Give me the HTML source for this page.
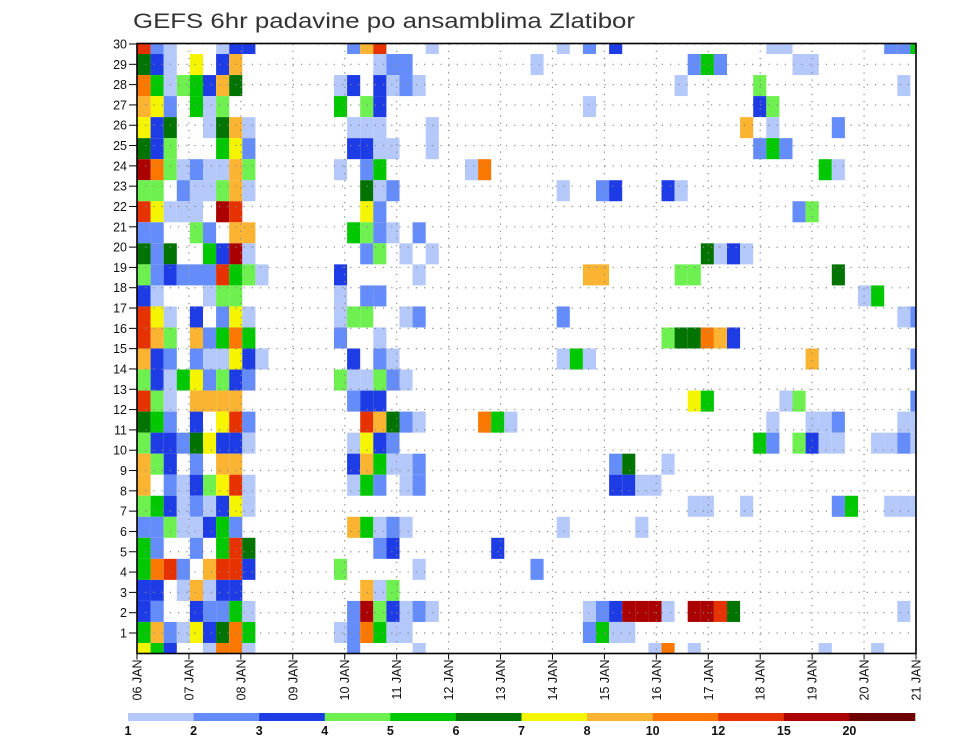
<!DOCTYPE html>
<html><head><meta charset="utf-8"><style>
html,body{margin:0;padding:0;background:#fff;}
svg{display:block;font-family:"Liberation Sans",sans-serif;}
</style></head><body>
<svg id="chart" width="960" height="742" viewBox="0 0 960 742" xmlns="http://www.w3.org/2000/svg">
<text x="133" y="28" font-size="21" fill="#333" textLength="502" lengthAdjust="spacingAndGlyphs">GEFS 6hr padavine po ansamblima Zlatibor</text>
<g id="cells"></g>
<g id="grid"></g>
<rect x="137" y="43.5" width="779" height="610" fill="none" stroke="#000" stroke-width="1.6"/>
<g id="yaxis"></g>
<g id="xaxis"></g>
<g id="cbar"></g>
</svg>
<script>
// categories
const dayLabels = ["06 JAN","07 JAN","08 JAN","09 JAN","10 JAN","11 JAN","12 JAN","13 JAN","14 JAN","15 JAN","16 JAN","17 JAN","18 JAN","19 JAN","20 JAN","21 JAN"];
const memberLabels = [1,2,3,4,5,6,7,8,9,10,11,12,13,14,15,16,17,18,19,20,21,22,23,24,25,26,27,28,29,30];
// colour scale thresholds (mm) and legend labels
const levelThresholds = [1,2,3,4,5,6,7,8,10,12,15,20];
const levelLabels = ["1","2","3","4","5","6","7","8","10","12","15","20"];
const levelColors = ["#b4c8fa","#648cfa","#1e3ce6","#6ef050","#00c800","#007300","#f5f500","#fab432","#fa7800","#e63200","#aa0000","#6e0000"];
// precipitation class per cell (letter a..l = class index), rows top->bottom, "col+class"
const codeValues = {a:1.5,b:2.5,c:3.5,d:4.5,e:5.5,f:6.5,g:7.5,h:9,i:11,j:13.5,k:17.5,l:17.5,m:25};
const precipRows = [
"0j 1b 2a 6a 7c 8c 16b 17h 18j 22a 32a 34b 36c 48a 49a 57b 58b 59e",
"0f 1c 2a 4g 6c 7h 18a 19b 20b 30a 42b 43e 44b 50a 51a",
"0i 1e 2a 3d 4e 5c 6h 7f 15a 16c 18c 19a 20b 21a 41a 47d 58a",
"0h 1g 2b 4e 5a 6d 15e 17d 18c 34a 47c 48d",
"0g 1c 2f 5a 6f 7h 8a 16a 17a 18a 22a 46h 48a 53b",
"0f 1c 2d 6e 7g 8b 16c 17c 18a 19a 22a 47b 48e 49b",
"0l 1i 2d 3a 4b 5a 6a 7h 8d 15a 17b 18e 25a 26i 52e 53a",
"0d 1d 3b 4a 5a 6d 7h 8a 17f 18a 19b 32a 35b 36c 40c 41a",
"0j 1g 2a 3a 4a 6l 7j 17g 18b 50b 51d",
"0b 1b 4d 5b 7h 8h 16e 17d 18b 19a 21b",
"0f 1b 2f 5e 6c 7l 8a 17b 18d 20a 22a 43f 44a 45c 46a",
"0d 1b 2c 3b 4b 5b 6j 7e 8d 9a 15c 21a 34h 35h 41d 42d 53f",
"0c 1a 5a 6d 7d 15a 17b 18b 55a 56e",
"0j 1g 2a 4c 6b 7g 8a 15a 16d 17d 20a 21b 32b 58a 59b",
"0j 1h 2d 4h 5b 6e 7i 8e 15b 18a 40d 41f 42f 43i 44h 45c",
"0h 1c 2b 4b 5a 6a 7g 8c 9a 16c 18b 19a 32a 33e 34a 51h 59b",
"0d 1c 2a 3e 4g 5b 6d 7c 8b 15d 16a 17a 18d 19b 20a",
"0j 1d 2a 4h 5h 6h 7h 16b 17c 18c 42g 43e 49a 50d 59b",
"0f 1e 2b 4c 6g 7j 8b 17j 18h 19f 20b 21a 26i 27e 28a 48a 51a 52a 53b 58a 59a",
"0d 1c 2c 3b 4f 5g 6c 7c 8a 16a 17g 18c 19b 47e 48b 50d 51c 52a 53a 56a 57a 58b 59a",
"0h 1d 2c 4b 6h 7h 16c 17h 18e 19a 20a 21b 36b 37f 40a",
"0h 2b 3a 4c 5d 6g 7j 8a 16a 17e 18b 20a 21b 36c 37c 38a 39a",
"0d 1e 2c 3a 4b 5a 6c 7g 8a 42a 43a 46a 53b 54e 57a 58a 59a",
"0b 1b 2d 3a 4a 5c 6e 7b 16h 17e 18a 19b 20a 32a 38a",
"0e 1b 4b 6e 7j 8f 18b 19c 27c",
"0e 1i 2j 3b 5h 6j 7j 8c 15d 21a 30b",
"0c 1c 3a 4h 5a 6c 7c 17h 18a 19d",
"0c 1b 4c 5b 6b 7e 8a 16b 17l 18d 19c 20a 21b 22a 34a 35b 36c 37l 38l 39l 40a 42l 43l 44j 45f 58a",
"0e 1h 2b 3a 4g 5c 6f 7i 8e 15a 16b 17i 18e 19a 20a 34b 35e 36a 37a",
"0g 1e 2c 5a 6i 7i 8a 16b 21a 39a 40i 42a 52a 56a"
];

const NS = "http://www.w3.org/2000/svg";
const PL = 137, PR = 916, PT = 43.5, PB = 653.5;
const nCols = 60, nRows = precipRows.length;
const colW = 13.1;
const rowH = (PB - PT) / (nRows - 1);
function xCell(c){ return PL + 0.5 + c * colW; }
function yCellCenter(r){ return PT + r * rowH; }
function yMember(m){ return 633 - (m - 1) * (633 - 44) / 29; }
function xDay(d){ return PL + d * (PR - PL) / (dayLabels.length - 1); }
function colorFor(v){ let k = -1; for (let i = 0; i < levelThresholds.length; i++) if (v >= levelThresholds[i]) k = i; return k < 0 ? null : levelColors[k]; }
function mk(tag, attrs, parent){ const e = document.createElementNS(NS, tag); for (const k in attrs) e.setAttribute(k, attrs[k]); parent.appendChild(e); return e; }

// cells
const cellsG = document.getElementById('cells');
precipRows.forEach((row, r) => {
  row.trim().split(/\s+/).forEach(tok => {
    const c = parseInt(tok, 10);
    const v = codeValues[tok.replace(/[0-9]/g, '')];
    const col = colorFor(v);
    if (!col) return;
    const x0 = xCell(c), x1 = Math.min(x0 + colW, PR);
    const y0 = Math.max(yCellCenter(r) - rowH / 2, PT), y1 = Math.min(yCellCenter(r) + rowH / 2, PB);
    const rect = mk('rect', {x: x0.toFixed(2), y: y0.toFixed(2), width: (x1 - x0).toFixed(2), height: (y1 - y0).toFixed(2), fill: col}, cellsG);
    
    
  });
});

// grid
const gridG = document.getElementById('grid');
memberLabels.forEach(m => {
  const y = yMember(m);
  const l = mk('line', {x1: PL, x2: PR, y1: y, y2: y, stroke: '#888', 'stroke-width': 1.2, 'stroke-dasharray': '1.2,7'}, gridG);
  
  
});
dayLabels.forEach((d, i) => {
  const x = xDay(i);
  const l = mk('line', {x1: x, x2: x, y1: PT, y2: PB, stroke: '#888', 'stroke-width': 1.2, 'stroke-dasharray': '1.2,6'}, gridG);
  
  
});

// y axis
const yG = document.getElementById('yaxis');
memberLabels.forEach(m => {
  const y = yMember(m);
  const t = mk('line', {x1: 129, x2: PL, y1: y, y2: y, stroke: '#000', 'stroke-width': 1}, yG);
  
  
  const tx = mk('text', {x: 127, y: y + 4.5, 'font-size': 12.5, 'text-anchor': 'end', fill: '#111'}, yG);
  tx.textContent = m;
  
  
});

// x axis
const xG = document.getElementById('xaxis');
dayLabels.forEach((d, i) => {
  const x = xDay(i);
  const t = mk('line', {x1: x, x2: x, y1: PB, y2: PB + 6, stroke: '#000', 'stroke-width': 1}, xG);
  
  
  const tx = mk('text', {x: 0, y: 0, 'font-size': 12.5, 'text-anchor': 'end', fill: '#111', transform: 'translate(' + (x + 4.5) + ',' + (PB + 6) + ') rotate(-90)'}, xG);
  tx.textContent = d;
  
  
});

// colour bar
const cG = document.getElementById('cbar');
const cbL = 128, cbR = 915, cbY = 713, cbH = 8;
const segW = (cbR - cbL) / levelColors.length;
levelColors.forEach((col, i) => {
  const r = mk('rect', {x: cbL + i * segW, y: cbY, width: segW + 0.3, height: cbH, fill: col}, cG);
  
  
});
levelLabels.forEach((lab, i) => {
  const t = mk('text', {x: cbL + i * segW, y: 735, 'font-size': 12.5, 'font-weight': 'bold', 'text-anchor': 'middle', fill: '#111'}, cG);
  t.textContent = lab;
  
  
});
</script>
</body></html>
